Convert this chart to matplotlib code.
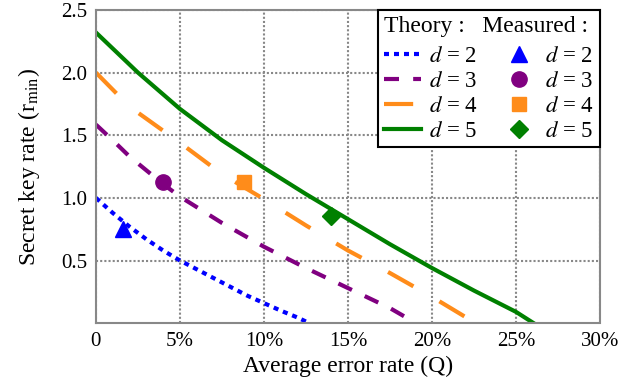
import matplotlib
matplotlib.use("Agg")
from matplotlib import pyplot as plt
from matplotlib.ticker import FixedLocator

plt.rcParams['font.family'] = ['Liberation Serif', 'DejaVu Serif']
plt.rcParams['mathtext.fontset'] = 'stix'

# theory curves (Q in %, r_min)
q_d2 = [0, 1, 2, 3, 4, 5, 6, 7, 8, 9, 10, 11, 12, 12.7]
r_d2 = [1.0, 0.88, 0.77, 0.67, 0.58, 0.50, 0.43, 0.36, 0.29, 0.22, 0.16, 0.10, 0.045, 0.0]

q_d3 = [0, 1, 2, 4, 5, 7.5, 10, 12.5, 15, 17.5, 19.05]
r_d3 = [1.585, 1.46, 1.33, 1.11, 1.01, 0.80, 0.61, 0.44, 0.28, 0.12, 0.0]

q_d4 = [0, 1.25, 2.5, 5, 7.5, 10, 12.5, 15, 17.5, 20, 22.6]
r_d4 = [2.0, 1.83, 1.68, 1.44, 1.19, 0.99, 0.78, 0.58, 0.40, 0.21, 0.0]

q_d5 = [0, 2.5, 5, 7.5, 10, 12.5, 15, 17.5, 20, 22.5, 25, 26.05]
r_d5 = [2.32, 2.0, 1.71, 1.46, 1.24, 1.03, 0.83, 0.63, 0.44, 0.26, 0.09, 0.0]

# measured points
q_meas = [1.6, 4.0, 8.8, 14.0]
r_meas = [0.75, 1.13, 1.13, 0.855]

fig = plt.figure(figsize=(6.27, 3.82), dpi=100)
ax = fig.add_axes([0.153, 0.154, 0.804, 0.82])

lw = 3
l2, = ax.plot(q_d2, r_d2, color='#0000ff', lw=lw, dashes=(1.2, 1.2))
l3, = ax.plot(q_d3, r_d3, color='#800080', lw=lw, dashes=(3.6, 3.4))
l4, = ax.plot(q_d4, r_d4, color='#ff8c1a', lw=lw, dashes=(7, 7.2))
l5, = ax.plot(q_d5, r_d5, color='#008000', lw=lw)

m2, = ax.plot(q_meas[0], r_meas[0], '^', color='#0000ff', ms=11, ls='none')
m3, = ax.plot(q_meas[1], r_meas[1], 'o', color='#800080', ms=11, ls='none')
m4, = ax.plot(q_meas[2], r_meas[2], 's', color='#ff8c1a', ms=10, ls='none')
m5, = ax.plot(q_meas[3], r_meas[3], 'D', color='#008000', ms=9, ls='none')

ax.set_xlim(0, 30)
ax.set_ylim(0, 2.5)
ax.xaxis.set_major_locator(FixedLocator([0, 5, 10, 15, 20, 25, 30]))
ax.set_xticklabels(['0', '5%', '10%', '15%', '20%', '25%', '30%'])
ax.yaxis.set_major_locator(FixedLocator([0.5, 1.0, 1.5, 2.0, 2.5]))
ax.set_yticklabels(['0.5', '1.0', '1.5', '2.0', '2.5'])
ax.tick_params(length=0, labelsize=15, pad=6)

ax.grid(True, color='#888888', ls=(0, (1, 1)), lw=1.5)
for s in ax.spines.values():
    s.set_color('#888888')
    s.set_linestyle((0, (1, 1)))
    s.set_linewidth(1.5)

ax.set_xlabel('Average error rate (Q)', fontsize=17, labelpad=4)
ax.set_ylabel(r'Secret key rate (r$_{\rm min}$)', fontsize=17, labelpad=14)

labels = ['$d$ = 2', '$d$ = 3', '$d$ = 4', '$d$ = 5']
leg = ax.legend([l2, l3, l4, l5, m2, m3, m4, m5], labels + labels,
                ncol=2, loc='upper right', fontsize=16.5,
                title='Theory :   Measured :', title_fontsize=17,
                alignment='left', frameon=True, fancybox=False,
                edgecolor='black', framealpha=1, borderpad=0.25,
                handlelength=1.6, handletextpad=0.35, columnspacing=1.0,
                labelspacing=0.16, borderaxespad=0.0)
leg.get_frame().set_linewidth(1.5)
leg._legend_box.sep = 7  # a bit more room under the title row

fig.savefig('out.png', dpi=100)
